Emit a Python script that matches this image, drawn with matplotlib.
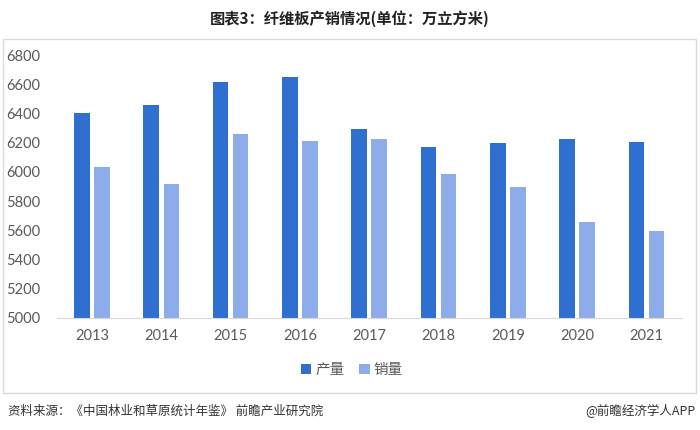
import matplotlib
matplotlib.use("Agg")
import matplotlib.pyplot as plt
from matplotlib.patches import Rectangle
import numpy as np

plt.rcParams['font.family'] = ['Noto Sans CJK SC', 'DejaVu Sans']

years = ["2013", "2014", "2015", "2016", "2017", "2018", "2019", "2020", "2021"]
production = [6400, 6455, 6615, 6648, 6296, 6168, 6198, 6222, 6202]
sales = [6036, 5920, 6260, 6213, 6224, 5984, 5897, 5660, 5598]
yticks = [5000, 5200, 5400, 5600, 5800, 6000, 6200, 6400, 6600, 6800]

c_prod = "#2F6FCF"
c_sales = "#8EABEA"

fig = plt.figure(figsize=(7, 4.3), dpi=100)
ax = fig.add_axes([0.0814, 0.2605, 0.8926, 0.6115])

x = np.arange(len(years))
w = 0.225
off = 0.145
ax.bar(x - off, np.array(production) - 5000, bottom=5000, width=w, color=c_prod, label="产量")
ax.bar(x + off, np.array(sales) - 5000, bottom=5000, width=w, color=c_sales, label="销量")

ax.set_xlim(-0.505, 8.51)
ax.set_ylim(5000, 6800)
ax.set_yticks(yticks)
ax.set_yticklabels([str(v) for v in yticks], family=['Lato', 'DejaVu Sans'], fontsize=10.5, color="#595959")
ax.set_xticks(x)
ax.set_xticklabels(years, family=['Lato', 'DejaVu Sans'], fontsize=10.5, color="#595959")
for s in ["top", "right", "left"]:
    ax.spines[s].set_visible(False)
ax.spines["bottom"].set_color("#D9D9D9")
ax.tick_params(axis="both", length=0)
ax.tick_params(axis="y", pad=12)
ax.tick_params(axis="x", pad=8)

leg = fig.legend(loc="center", bbox_to_anchor=(0.503, 1 - 370 / 430), ncol=2, frameon=False,
                 fontsize=10.5, handlelength=0.7, handleheight=0.7, handletextpad=0.3, columnspacing=1.0)
for t in leg.get_texts():
    t.set_color("#595959")

fig.text(0.5, 1 - 19 / 430, "图表3：纤维板产销情况(单位：万立方米)", ha="center", va="center",
         fontsize=11, fontweight="bold", color="#222222")

fig.patches.append(Rectangle((3 / 700, 1 - 393 / 430), 693 / 700, 354 / 430, transform=fig.transFigure,
                             fill=False, edgecolor="#D9D9D9", linewidth=1))

fig.text(8 / 700, 1 - 411 / 430, "资料来源：《中国林业和草原统计年鉴》 前瞻产业研究院", ha="left", va="center",
         fontsize=9, color="#333333")
fig.text(696 / 700, 1 - 411 / 430, "@前瞻经济学人APP", ha="right", va="center", fontsize=9, color="#333333")

fig.savefig("out.png", dpi=100, facecolor="white")
